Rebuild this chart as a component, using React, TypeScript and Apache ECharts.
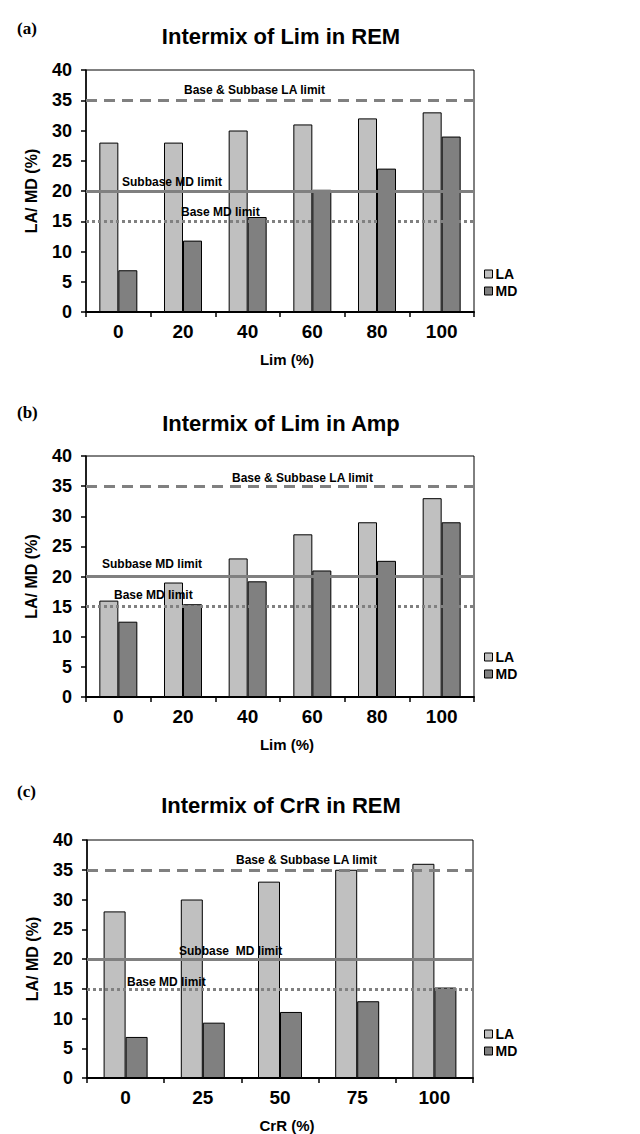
import React, { useEffect, useRef } from "react";
import * as echarts from "echarts";

// ---- data ----
const limCategories = ["0", "20", "40", "60", "80", "100"];
const crrCategories = ["0", "25", "50", "75", "100"];

const remLimLA = [28, 28, 30, 31, 32, 33];
const remLimMD = [6.9, 11.8, 15.7, 20.2, 23.7, 29];

const ampLimLA = [16, 19, 23, 27, 29, 33];
const ampLimMD = [12.5, 15.4, 19.2, 21, 22.6, 29];

const remCrrLA = [28, 30, 33, 35, 36];
const remCrrMD = [6.9, 9.3, 11.1, 12.9, 15.2];

const yMin = 0;
const yMax = 40;
const yInterval = 5;

const laLimit = 35;
const subbaseMdLimit = 20;
const baseMdLimit = 15;

const titles = ["Intermix of Lim in REM", "Intermix of Lim in Amp", "Intermix of CrR in REM"];
const panelLetters = ["(a)", "(b)", "(c)"];
const xNames = ["Lim (%)", "Lim (%)", "CrR (%)"];
const yName = "LA/ MD (%)";
const limitTexts = ["Base & Subbase LA limit", "Subbase MD limit", "Base MD limit"];
const limitTextsC = ["Base & Subbase LA limit", "Subbase  MD limit", "Base MD limit"];

// ---- layout (pixels) ----
const FONT = "'Liberation Sans', Arial, Helvetica, sans-serif";
const panels = [
  {
    cats: limCategories, la: remLimLA, md: remLimMD, texts: limitTexts,
    left: 86, width: 388, top: 70, height: 242, barWidth: 19,
    titleTop: 20, letterTop: 15, legendTop: 267,
    labelPos: [[184, 10], [122, 9], [181, 9]],
  },
  {
    cats: limCategories, la: ampLimLA, md: ampLimMD, texts: limitTexts,
    left: 86, width: 388, top: 456, height: 241, barWidth: 19,
    titleTop: 407, letterTop: 399, legendTop: 650,
    labelPos: [[232, 8], [102, 13], [114, 12]],
  },
  {
    cats: crrCategories, la: remCrrLA, md: remCrrMD, texts: limitTextsC,
    left: 87, width: 386, top: 840, height: 241, barWidth: 22,
    titleTop: 789, letterTop: 778, legendTop: 1027,
    labelPos: [[236, 10], [179, 9.5], [127, 9]],
  },
];

export default function App() {
  const ref = useRef<HTMLDivElement>(null);

  useEffect(() => {
    document.body.style.margin = "0";
    if (!ref.current) return;
    const chart = echarts.init(ref.current, undefined, { renderer: "svg" });

    const grid: any[] = [];
    const xAxis: any[] = [];
    const yAxis: any[] = [];
    const series: any[] = [];
    const title: any[] = [];
    const legend: any[] = [];
    const graphic: any[] = [];

    panels.forEach((p, i) => {
      grid.push({
        left: p.left, top: p.top, width: p.width, height: p.height,
        show: true, borderColor: "#000", borderWidth: 1,
      });
      xAxis.push({
        type: "category", gridIndex: i, data: p.cats,
        axisLine: { lineStyle: { color: "#000", width: 2 } },
        axisTick: { show: true, length: 5, lineStyle: { color: "#000", width: 1.5 } },
        axisLabel: { color: "#000", fontFamily: FONT, fontWeight: "bold", fontSize: 19, margin: 10 },
        name: xNames[i], nameLocation: "middle", nameGap: 40,
        nameTextStyle: { color: "#000", fontFamily: FONT, fontWeight: "bold", fontSize: 15, padding: [0, 0, 0, 14] },
      });
      yAxis.push({
        type: "value", gridIndex: i, min: yMin, max: yMax, interval: yInterval,
        axisLine: { show: true, lineStyle: { color: "#000", width: 1.5 } },
        axisTick: { show: true, length: 5, lineStyle: { color: "#000", width: 1.5 } },
        splitLine: { show: false },
        axisLabel: { color: "#000", fontFamily: FONT, fontWeight: "bold", fontSize: 18, margin: 14 },
        name: yName, nameLocation: "middle", nameGap: 47,
        nameTextStyle: { color: "#000", fontFamily: FONT, fontWeight: "bold", fontSize: 16 },
      });
      series.push({
        name: "LA", type: "bar", xAxisIndex: i, yAxisIndex: i, data: p.la,
        barWidth: p.barWidth, barGap: "0%",
        itemStyle: { color: "#c0c0c0", borderColor: "#000", borderWidth: 1 },
      });
      series.push({
        name: "MD", type: "bar", xAxisIndex: i, yAxisIndex: i, data: p.md,
        barWidth: p.barWidth, barGap: "0%",
        itemStyle: { color: "#808080", borderColor: "#000", borderWidth: 1 },
        markLine: {
          silent: true, symbol: ["none", "none"], z: 6,
          label: { show: false },
          data: [
            { yAxis: laLimit, lineStyle: { color: "#808080", width: 3, type: [11, 7] } },
            { yAxis: subbaseMdLimit, lineStyle: { color: "#808080", width: 3, type: "solid" } },
            { yAxis: baseMdLimit, lineStyle: { color: "#808080", width: 3, type: [3, 3] } },
          ],
        },
      });
      title.push({
        text: titles[i], left: 276, top: p.titleTop, textAlign: "center",
        textStyle: { color: "#000", fontFamily: FONT, fontWeight: "bold", fontSize: 22 },
      });
      title.push({
        text: panelLetters[i], left: 12, top: p.letterTop,
        textStyle: { color: "#000", fontFamily: "'Liberation Serif', 'Times New Roman', serif", fontWeight: "bold", fontSize: 17 },
      });
      legend.push({
        data: ["LA", "MD"], orient: "vertical", left: 484, top: p.legendTop,
        itemWidth: 8, itemHeight: 8, itemGap: 3, padding: 0,
        icon: "rect",
        itemStyle: { borderColor: "#000", borderWidth: 1 },
        textStyle: { color: "#000", fontFamily: FONT, fontWeight: "bold", fontSize: 14, padding: [0, 0, 0, -2] },
        selectedMode: false,
      });
      const limits = [laLimit, subbaseMdLimit, baseMdLimit];
      limits.forEach((v, k) => {
        const yPix = p.top + p.height * (1 - (v - yMin) / (yMax - yMin));
        graphic.push({
          type: "text", z: 100,
          style: {
            text: p.texts[k], x: p.labelPos[k][0], y: yPix - p.labelPos[k][1],
            font: `bold 12px ${FONT}`, fill: "#000", verticalAlign: "middle", align: "left",
          },
        });
      });
    });

    chart.setOption({
      animation: false,
      backgroundColor: "#fff",
      title, legend, grid, xAxis, yAxis, series, graphic,
    });
    return () => chart.dispose();
  }, []);

  return <div ref={ref} style={{ width: 640, height: 1134 }} />;
}
